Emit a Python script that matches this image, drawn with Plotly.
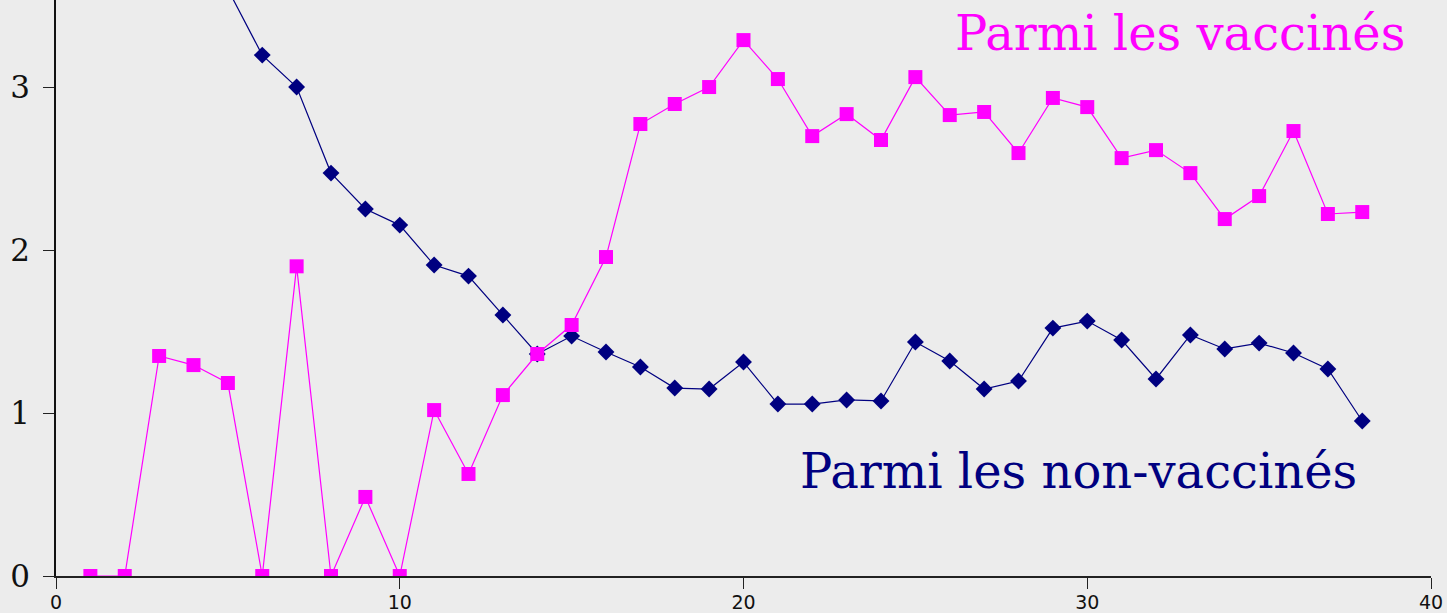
import plotly.graph_objects as go

weeks = list(range(1, 39))
vaccines = [0, 0, 1.35, 1.294, 1.184, 0, 1.90, 0, 0.485, 0,
            1.018, 0.626, 1.11, 1.362, 1.54, 1.957, 2.773, 2.896, 3.0, 3.288,
            3.049, 2.699, 2.834, 2.675, 3.061, 2.828, 2.847, 2.595, 2.933, 2.877,
            2.564, 2.613, 2.472, 2.19, 2.331, 2.73, 2.221, 2.233]
non_vaccines = [6.5, 5.8, 5.0, 4.3, 3.6, 3.196, 3.0, 2.472, 2.252, 2.153,
                1.908, 1.84, 1.601, 1.362, 1.472, 1.374, 1.282, 1.153, 1.147, 1.313,
                1.055, 1.055, 1.08, 1.074, 1.436, 1.319, 1.147, 1.196, 1.521, 1.564,
                1.448, 1.209, 1.479, 1.393, 1.429, 1.368, 1.27, 0.951]

x_ticks = [0, 10, 20, 30, 40]
y_ticks = [0, 1, 2, 3]

MAGENTA = "#ff00ff"
NAVY = "#000080"

fig = go.Figure()
fig.add_trace(go.Scatter(x=weeks, y=non_vaccines, mode="lines+markers",
                         line=dict(color=NAVY, width=1.2),
                         marker=dict(symbol="diamond", size=13, color=NAVY),
                         name="Parmi les non-vaccinés"))
fig.add_trace(go.Scatter(x=weeks, y=vaccines, mode="lines+markers",
                         line=dict(color=MAGENTA, width=1.2),
                         marker=dict(symbol="square", size=14, color=MAGENTA),
                         name="Parmi les vaccinés"))

fig.add_annotation(x=39.31, y=3.516, xref="x", yref="y", text="Parmi les vaccinés",
                   showarrow=False, xanchor="right", yanchor="top",
                   font=dict(family="DejaVu Serif", size=48, color=MAGENTA))
fig.add_annotation(x=37.9, y=0.646, xref="x", yref="y", text="Parmi les non-vaccinés",
                   showarrow=False, xanchor="right", yanchor="middle",
                   font=dict(family="DejaVu Serif", size=48, color=NAVY))

fig.update_layout(
    width=1447, height=613,
    margin=dict(l=56, r=16, t=0, b=37),
    paper_bgcolor="#ececec", plot_bgcolor="#ececec",
    showlegend=False,
)
fig.update_xaxes(range=[0, 40], tickvals=x_ticks, ticks="outside", ticklen=11,
                 tickcolor="#222", showline=True, linecolor="#222", linewidth=1.5,
                 showgrid=False, zeroline=False, automargin=False, ticklabelstandoff=-3,
                 tickfont=dict(family="DejaVu Sans", size=19, color="#111"))
fig.update_yaxes(range=[0, 3.534], tickvals=y_ticks, ticks="outside", ticklen=11,
                 tickcolor="#222", showline=True, linecolor="#111", linewidth=1.5,
                 showgrid=False, zeroline=False, ticklabelstandoff=7, automargin=False,
                 tickfont=dict(family="DejaVu Serif", size=31, color="#111"))

fig.write_html("out.html", config={"displayModeBar": False},
               post_script="document.body.style.margin='0';document.body.style.background='#ececec';")
